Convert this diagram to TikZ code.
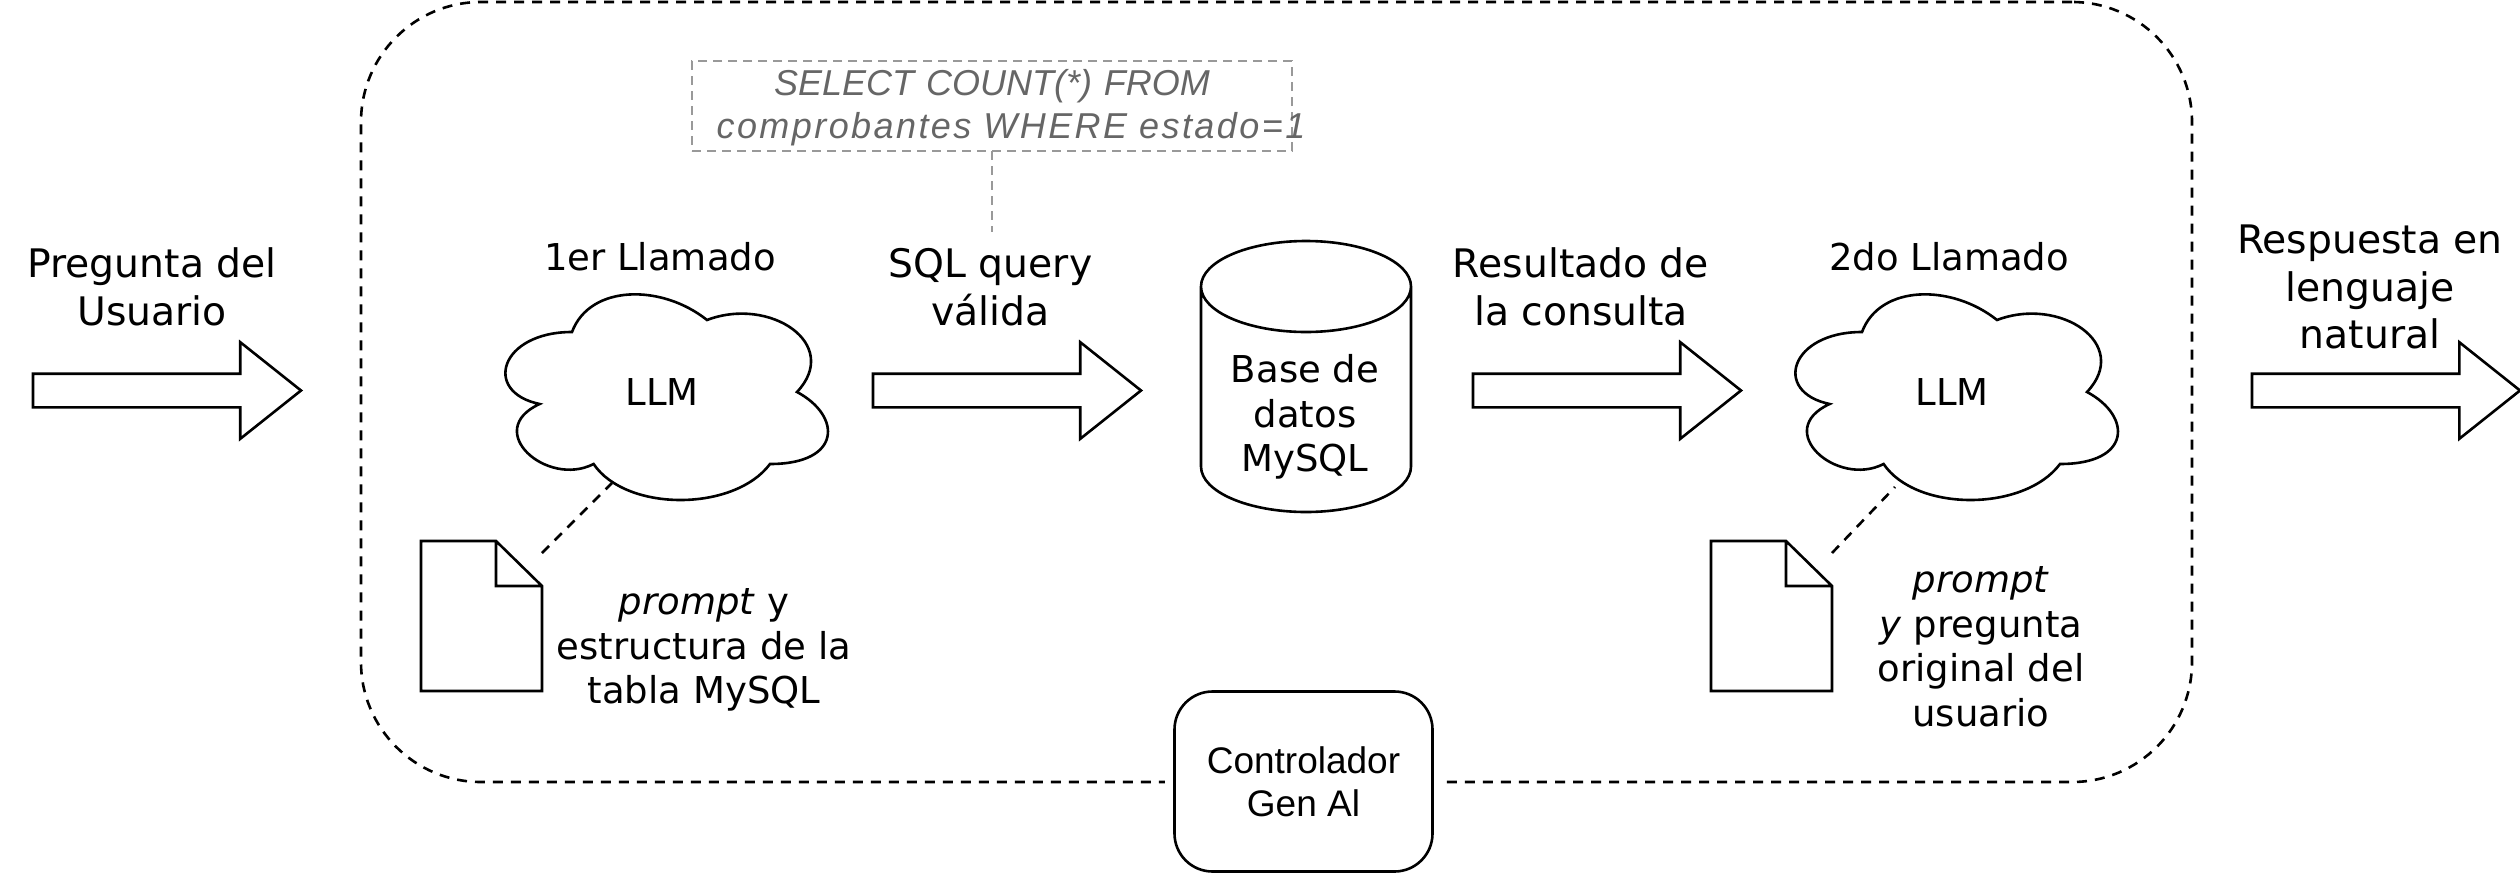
\documentclass[tikz,border=0pt]{standalone}
\usepackage{fontspec}
\setmainfont{DejaVu Sans}
\newfontfamily\arialfont{Liberation Sans}
\usetikzlibrary{calc}
\usetikzlibrary{positioning}
\usetikzlibrary{shapes.arrows}

\begin{document}
\begin{tikzpicture}[x=1pt,y=-1pt]
\tikzstyle{line}=[draw,line width=2.6pt]
\tikzstyle{dashline}=[line width=2.6pt,dash pattern=on 10pt off 8pt]
\tikzstyle{lab}=[align=center,inner sep=0pt,font=\fontsize{37}{44.5}\selectfont]
\tikzstyle{biglab}=[align=center,inner sep=0pt,font=\fontsize{39.3}{47.5}\selectfont]
\tikzstyle{flecha}=[single arrow,line,anchor=tail,inner sep=15.5pt,outer sep=0pt,minimum height=268pt,single arrow head extend=31.5pt,single arrow tip angle=77]
\tikzstyle{grisline}=[color=gris,line width=2.6pt,dash pattern=on 9pt off 6pt]
\definecolor{gris}{HTML}{999999}
\definecolor{grist}{HTML}{666666}
\useasboundingbox (0,0) rectangle (2520,873);
\node[dashline,draw,rectangle,rounded corners=120pt,minimum width=1831pt,minimum height=780pt,outer sep=0pt] at(1276.5, 392) (marco) {};
\node[line,rectangle,rounded corners=38pt,fill=white,preaction={draw=white,line width=19pt},minimum width=258pt,minimum height=180pt,align=center,inner sep=0pt,font=\arialfont\fontsize{37}{43}\selectfont] at(1303.5, 781.5) (ctrl) {Controlador\\Gen Al};
\node[rectangle,grisline,draw,minimum width=600pt,minimum height=90pt,inner sep=0pt,outer sep=0pt] at(992, 106) (sql) {};
\node[text width=760pt,align=center,inner sep=0pt,text=grist,font=\arialfont\itshape\fontsize{36}{43}\selectfont] at(992, 107.5) (sqlt) {SELECT COUNT(*) FROM\\\hspace*{38pt}{\addfontfeature{LetterSpace=6.75}comprobantes WHERE estado=1}};
\coordinate (sqltail) at (992, 232);
\draw[grisline] (sql.south) -- (sqltail);
\foreach \n/\dx/\tx/\ty in {a/0/612/483,b/1290/605/487}{
  \begin{scope}[xshift=\dx pt]
    \node[lab] at(662, 392) (cloud\n) {LLM};
    \draw[line,xshift=482pt,yshift=-272pt,x=3.6pt,y=-2.4pt] (25,25) .. controls (5,25) and (0,50) .. (16,55)
      .. controls (0,66) and (18,90) .. (31,80) .. controls (40,100) and (70,100) .. (80,80)
      .. controls (100,80) and (100,60) .. (87.5,50) .. controls (100,30) and (80,10) .. (62.5,20)
      .. controls (50,5) and (30,5) .. (25,25) -- cycle;
    \node[minimum width=121pt,minimum height=150pt,inner sep=0pt,outer sep=0pt] at(481.5, 616) (doc\n) {};
    \draw[line,shift={(doc\n.north west)}] (0,0) -- (75,0) -- (121,45) -- (121,150) -- (0,150) -- cycle (75,0) -- (75,45) -- (121,45);
    \coordinate (tail\n) at (\tx, \ty);
    \coordinate (head\n) at (542, 553);
    \draw[dashline] (head\n) -- (tail\n);
  \end{scope}
}
\node[lab] at(660, 257) (lla) {1er Llamado};
\node[lab] at(1949, 257) (llb) {2do Llamado};
\node[lab] at(704, 650) (pra) {\textit{prompt} y\\estructura de la\\tabla MySQL};
\node[lab] at(1981, 647) (prb) {\textit{prompt}\\\textit{y} pregunta\\original del\\usuario};
\node[biglab] at(152, 287) (preg) {Pregunta del\\Usuario};
\node[biglab] at(990.5, 287) (query) {SQL query\\válida};
\node[biglab] at(1581, 287) (res) {Resultado de\\la consulta};
\node[biglab] at(2370, 287) (resp) {Respuesta en\\lenguaje\\natural};
\node[flecha] at(33, 390.5) (f1) {};
\node[flecha] at(873, 390.5) (f2) {};
\node[flecha] at(1473, 390.5) (f3) {};
\node[flecha] at(2252, 390.5) (f4) {};
\node[minimum width=210pt,minimum height=271pt,inner sep=0pt,outer sep=0pt] at(1306, 376.5) (bd) {};
\draw[line,shift={(bd.north west)}] (0,45.5) arc[start angle=180,end angle=0,x radius=105pt,y radius=45.5pt] -- (210,225.5) arc[start angle=0,end angle=-180,x radius=105pt,y radius=45.5pt] -- cycle (0,45.5) arc[start angle=180,end angle=360,x radius=105pt,y radius=45.5pt];
\node[lab] at(1305, 417) (bdt) {Base de\\datos\\MySQL};
\end{tikzpicture}
\end{document}
